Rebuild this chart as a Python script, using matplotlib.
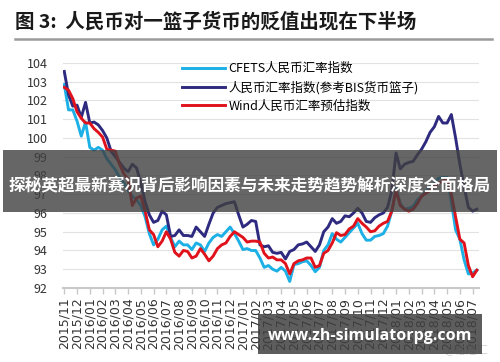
import numpy as np
import pandas as pd
import matplotlib
matplotlib.use("Agg")
import matplotlib.pyplot as plt
from matplotlib.patches import Rectangle

plt.rcParams['font.family'] = ['Noto Sans CJK SC', 'DejaVu Sans']

# month labels on the x axis
months = pd.period_range('2015-11', '2018-07', freq='M').strftime('%Y/%m').tolist()

# readings taken about every 10 days (3 per month), starting 2015/11
cfets = [102.85, 101.5, 101.5, 100.9, 100.1, 100.85, 99.5, 99.35, 99.5, 99.35,
         98.9, 98.6, 98.3, 97.9, 97.6, 97.2, 96.9, 96.7, 96.4, 95.8,
         94.9, 94.3, 94.6, 95.1, 95.3, 94.7, 94.2, 94.5, 94.3, 94.3,
         94.05, 94.4, 94.3, 93.95, 94.4, 94.7, 94.85, 94.75, 95.0, 95.25,
         94.9, 94.5, 94.05, 94.1, 94.0, 94.0, 93.6, 93.1, 93.2, 93.0,
         92.9, 93.1, 92.9, 92.35, 93.25, 93.3, 93.4, 93.45, 93.2, 92.87,
         93.1, 94.0, 94.3, 94.9, 94.6, 94.45, 94.7, 94.95, 95.2, 95.45,
         94.9, 94.55, 94.55, 94.75, 94.8, 94.9, 95.3, 96.1, 97.3, 96.5,
         96.2, 96.25, 96.35, 96.7, 96.9, 97.15, 97.4, 97.6, 97.85, 97.9,
         97.9, 96.6, 95.1, 94.6, 93.5, 92.75, 92.8, 92.95]

bis = [103.55, 102.3, 101.7, 101.75, 101.1, 101.9, 100.8, 100.85, 100.7, 100.4,
       100.0, 99.3, 99.0, 98.7, 98.4, 98.2, 98.6, 98.4, 97.6, 96.6,
       95.9, 95.5, 95.6, 96.1, 95.9, 94.75, 94.8, 95.1, 94.8, 94.8,
       94.75, 95.25, 95.0, 94.75, 95.4, 96.0, 96.3, 96.4, 96.5, 96.55,
       96.6, 95.9, 95.25, 95.4, 95.6, 95.55, 94.3, 94.2, 94.25, 93.9,
       93.85, 93.9, 93.55, 93.95, 94.05, 94.3, 94.35, 94.45, 94.2, 93.95,
       94.3, 95.0, 95.25, 95.7, 95.45, 95.55, 95.85, 95.8, 96.0, 96.25,
       96.0, 95.55, 95.5, 95.75, 95.9, 96.0, 96.3, 97.2, 99.2, 98.35,
       98.6, 98.7, 98.75, 99.1, 99.4, 99.8, 100.3, 100.6, 101.15, 100.8,
       100.8, 101.25, 100.0, 98.6, 97.4, 96.3, 96.1, 96.2]

wind = [102.7, 102.55, 102.1, 101.4, 101.05, 100.8, 100.8, 100.5, 100.3, 100.05,
        99.4, 99.35, 99.3, 98.6, 98.1, 97.8, 96.4, 96.8, 96.9, 96.1,
        95.1, 94.85, 94.2, 94.5, 95.0, 94.6, 93.9, 93.7, 94.0, 93.95,
        93.6, 93.7, 94.1, 93.8, 93.45, 93.7, 94.1, 94.3, 94.4, 94.75,
        95.0, 94.85, 94.7, 94.45, 94.5, 94.5, 94.45, 93.85, 93.6, 93.65,
        93.5, 93.5, 93.3, 92.75, 93.3, 93.45, 93.5, 93.6, 93.6, 93.1,
        93.2, 93.85, 94.0, 94.4, 94.95, 94.8, 94.85, 95.15, 95.3, 95.7,
        95.45, 95.25, 95.0, 95.05, 95.3, 95.45, 95.55, 96.1, 97.2, 96.4,
        96.2, 96.1, 96.2, 96.5, 96.9, 97.05, 97.2, 97.45, 97.6, 97.7,
        97.85, 97.0, 95.8, 94.6, 94.4, 93.2, 92.6, 92.95]

names = ['CFETS人民币汇率指数', '人民币汇率指数(参考BIS货币篮子)', 'Wind人民币汇率预估指数']
colors = ['#1cb0e6', '#2e2a80', '#e0121b']

W, H = 500, 362
fig = plt.figure(figsize=(W / 100, H / 100), dpi=100)
ax = fig.add_axes([63 / W, 1 - 288 / H, (479 - 63) / W, (288 - 63) / H])

x = np.arange(len(cfets)) / 3
ax.plot(x, cfets, color=colors[0], lw=2.1, label=names[0])
ax.plot(x, bis, color=colors[1], lw=2.1, label=names[1])
ax.plot(x, wind, color=colors[2], lw=2.1, label=names[2])

ax.set_ylim(92, 104)
ax.set_xlim(-0.1, 32.5)
ax.set_yticks(range(92, 105))
ax.set_xticks(range(len(months)))
ax.set_xticklabels(months, rotation=90, fontsize=9, color='#333333',
                   family=['DejaVu Sans'])
ax.tick_params(axis='y', length=0, pad=11, labelsize=9, labelcolor='#333333')
ax.tick_params(axis='x', length=4, width=1, color='#c8c8c8', pad=3)
ax.grid(axis='y', color='#e2e2e2', lw=0.8)
ax.set_axisbelow(True)
for s in ['top', 'right', 'left']:
    ax.spines[s].set_visible(False)
ax.spines['bottom'].set_color('#c8c8c8')
ax.spines['bottom'].set_linewidth(1.5)

ax.legend(loc='upper left', bbox_to_anchor=(182 / W, 1 - 62 / H),
          bbox_transform=fig.transFigure, frameon=False, fontsize=9,
          handlelength=3.4, handletextpad=0.3, labelspacing=0.45,
          borderpad=0, borderaxespad=0)

# title and rule
fig.text(15 / W, 1 - 22 / H, '图 3:  人民币对一篮子货币的贬值出现在下半场',
         fontsize=14, fontweight='bold', va='center', ha='left', color='#1a1a1a')
fig.add_artist(plt.Line2D([15 / W, 492 / W], [1 - 38.5 / H, 1 - 38.5 / H],
                          color='#9a9a9a', lw=1.8, transform=fig.transFigure))

# source watermark
fig.text(488 / W, 1 - 350 / H, '@格隆汇', fontsize=8, color='#cfcfcf',
         ha='right', va='center')

# overlay banners
fig.add_artist(Rectangle((3 / W, 1 - 212 / H), 494 / W, 62 / H,
                         transform=fig.transFigure, color='#404040',
                         alpha=0.8, lw=0, zorder=10))
fig.text(250 / W, 1 - 185 / H, '探秘英超最新赛况背后影响因素与未来走势趋势解析深度全面格局',
         fontsize=12, fontweight='bold', color='white', ha='center',
         va='center', zorder=11)
fig.add_artist(Rectangle((258 / W, 1 - 354 / H), 224 / W, 40 / H,
                         transform=fig.transFigure, color='#404040',
                         alpha=0.85, lw=0, zorder=10))
fig.text(370 / W, 1 - 336 / H, 'www.zh-simulatorpg.com', fontsize=11.5,
         fontweight='bold', color='white', ha='center', va='center', zorder=11,
         family=['Open Sans', 'DejaVu Sans'])

fig.savefig('out.png', dpi=100)
